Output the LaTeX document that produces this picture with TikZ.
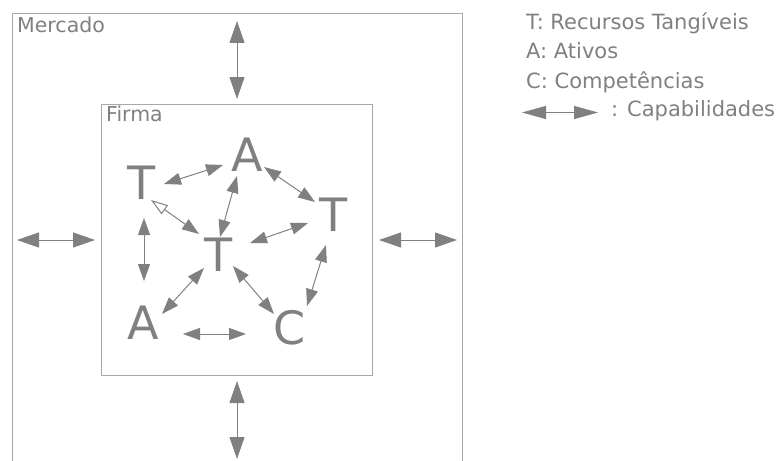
\documentclass[tikz,border=0pt]{standalone}
\usepackage{fontspec}
\setmainfont{DejaVu Sans}
\usetikzlibrary{arrows.meta}
\definecolor{ink}{HTML}{808080}
\definecolor{boxc}{HTML}{A8A8A8}
\tikzset{
  big/.style={draw=ink, line width=1pt, {Triangle[length=22pt,width=15pt]}-{Triangle[length=22pt,width=15pt]}, color=ink},
  small/.style={draw=ink, line width=1pt, {Triangle[length=17pt,width=12pt]}-{Triangle[length=17pt,width=12pt]}, color=ink},
  letter/.style={inner sep=0pt, text=ink, font=\fontsize{46}{50}\selectfont},
  lbl/.style={inner sep=0pt, anchor=base west, text=ink, font=\fontsize{20.5}{24}\selectfont},
  leg/.style={inner sep=0pt, anchor=base west, text=ink, font=\fontsize{21}{24}\selectfont},
  frame/.style={draw=boxc, line width=1pt}
}
\begin{document}
\begin{tikzpicture}[x=1pt,y=-1pt]
\useasboundingbox (0,0) rectangle (778,460);
% boxes
\draw[frame] (12,470) -- (12,14) -- (462,14) -- (462,470);
\draw[frame] (101.5,104.5) rectangle (372,375);
\node[lbl] (merc) at (17,33) {Mercado};
\node[lbl] (firm) at (106,121) {Firma};
% letters
\node[letter] (T1) at (142,183) {T};
\node[letter] (A1) at (247,155) {A};
\node[letter] (T2) at (334,215) {T};
\node[letter] (T3) at (219,255) {T};
\node[letter] (A2) at (143,323) {A};
\node[letter] (C1) at (290,328) {C};
% big arrows
\coordinate (u1) at (237,21); \coordinate (u2) at (237,99);
\coordinate (d1) at (237,381); \coordinate (d2) at (237,459);
\coordinate (l1) at (17,240); \coordinate (l2) at (95,240);
\coordinate (r1) at (379,240); \coordinate (r2) at (457,240);
\draw[big] (u1) -- (u2);
\draw[big] (d1) -- (d2);
\draw[big] (l1) -- (l2);
\draw[big] (r1) -- (r2);
% small arrows
\coordinate (a1) at (164,184); \coordinate (b1) at (223,165);
\coordinate (a2) at (264,167); \coordinate (b2) at (315,202);
\coordinate (a3) at (151,200); \coordinate (b3) at (199,234);
\coordinate (a4) at (237,176); \coordinate (b4) at (220,237);
\coordinate (a5) at (308,223); \coordinate (b5) at (250,243);
\coordinate (a6) at (144,218); \coordinate (b6) at (144,281);
\coordinate (a7) at (204,268); \coordinate (b7) at (162,314);
\coordinate (a8) at (233,266); \coordinate (b8) at (274,314);
\coordinate (a9) at (326,245); \coordinate (b9) at (307,306);
\coordinate (a10) at (183,334); \coordinate (b10) at (246,334);
\foreach \i in {1,2,4,5,6,7,8,9,10} { \draw[small] (a\i) -- (b\i); }
\draw[draw=ink, line width=1pt, color=ink, {Triangle[open,length=17pt,width=11pt]}-{Triangle[length=17pt,width=12pt]}] (a3) -- (b3);
% legend
\node[leg] (lg1) at (526,30) {T: Recursos Tangíveis};
\node[leg] (lg2) at (526,59) {A: Ativos};
\node[leg] (lg3) at (526,88) {C: Competências};
\coordinate (la) at (522,112.5); \coordinate (lb) at (598,112.5);
\draw[draw=ink, line width=1pt, color=ink, {Triangle[length=24pt,width=13pt]}-{Triangle[length=24pt,width=13pt]}] (la) -- (lb);
\node[leg] (lg4) at (611,116) {: Capabilidades};
\end{tikzpicture}
\end{document}
